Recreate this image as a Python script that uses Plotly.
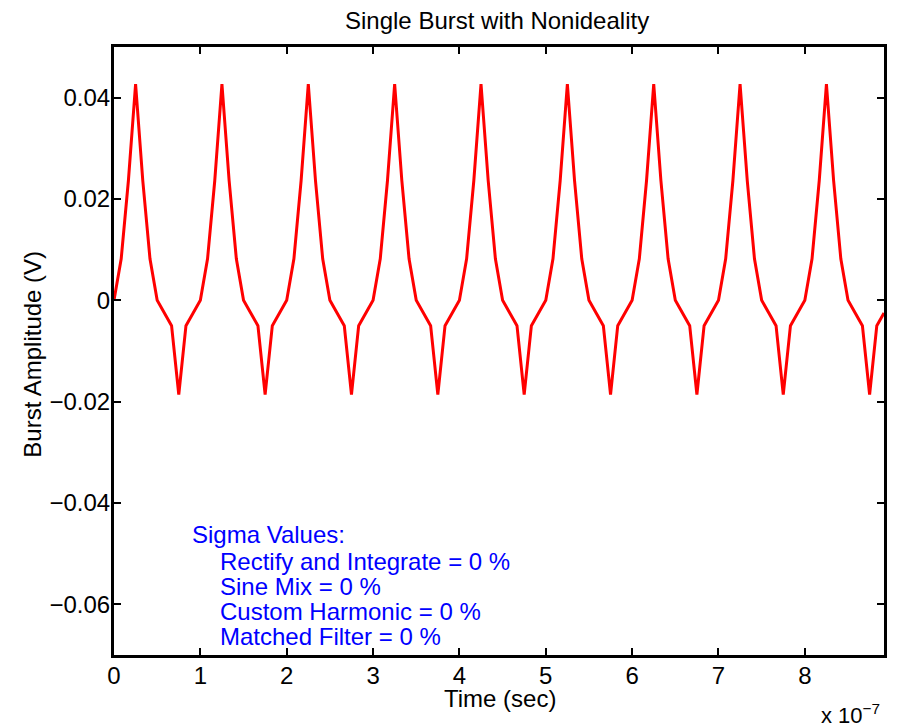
import plotly.graph_objects as go

# Sampling: 12 samples per 1e-7 s
dt = 1e-7 / 12

# Burst amplitude samples (V), 12 per period
burst = [
    0, 0.0082, 0.0236, 0.0427, 0.0236, 0.0082, 0, -0.0025, -0.005, -0.0186, -0.005, -0.0025,
    0, 0.0082, 0.0236, 0.0427, 0.0236, 0.0082, 0, -0.0025, -0.005, -0.0186, -0.005, -0.0025,
    0, 0.0082, 0.0236, 0.0427, 0.0236, 0.0082, 0, -0.0025, -0.005, -0.0186, -0.005, -0.0025,
    0, 0.0082, 0.0236, 0.0427, 0.0236, 0.0082, 0, -0.0025, -0.005, -0.0186, -0.005, -0.0025,
    0, 0.0082, 0.0236, 0.0427, 0.0236, 0.0082, 0, -0.0025, -0.005, -0.0186, -0.005, -0.0025,
    0, 0.0082, 0.0236, 0.0427, 0.0236, 0.0082, 0, -0.0025, -0.005, -0.0186, -0.005, -0.0025,
    0, 0.0082, 0.0236, 0.0427, 0.0236, 0.0082, 0, -0.0025, -0.005, -0.0186, -0.005, -0.0025,
    0, 0.0082, 0.0236, 0.0427, 0.0236, 0.0082, 0, -0.0025, -0.005, -0.0186, -0.005, -0.0025,
    0, 0.0082, 0.0236, 0.0427, 0.0236, 0.0082, 0, -0.0025, -0.005, -0.0186, -0.005, -0.0025,
]

x_tick_vals = [0, 1e-7, 2e-7, 3e-7, 4e-7, 5e-7, 6e-7, 7e-7, 8e-7]
x_tick_text = ["0", "1", "2", "3", "4", "5", "6", "7", "8"]
y_tick_vals = [0.04, 0.02, 0, -0.02, -0.04, -0.06]
y_tick_text = ["0.04", "0.02", "0", "\u22120.02", "\u22120.04", "\u22120.06"]

sigma_lines = [
    "Sigma Values:",
    "Rectify and Integrate = 0 %",
    "Sine Mix = 0 %",
    "Custom Harmonic = 0 %",
    "Matched Filter = 0 %",
]

FONT = "Liberation Sans, Arial, Helvetica, sans-serif"
FS = 24

fig = go.Figure()
fig.add_trace(go.Scatter(
    x0=0, dx=dt, y=burst, mode="lines",
    line=dict(color="#ff0000", width=3),
    showlegend=False, hoverinfo="skip",
))

x_max = (len(burst) - 1) * dt

axis_common = dict(
    showline=True, linecolor="black", linewidth=3, mirror="allticks",
    ticks="inside", ticklen=7, tickwidth=2, tickcolor="black",
    showgrid=False, zeroline=False,
    tickfont=dict(family=FONT, size=FS, color="black"),
)

fig.update_xaxes(range=[0, x_max], tickmode="array", tickvals=x_tick_vals,
                 ticktext=x_tick_text, ticklabelstandoff=-3, **axis_common)
fig.update_yaxes(range=[-0.07, 0.05], tickmode="array", tickvals=y_tick_vals,
                 ticktext=y_tick_text, ticklabelstandoff=-4, **axis_common)

annotations = [
    dict(text="Single Burst with Nonideality", x=0.497, y=1.044, xref="paper", yref="paper",
         xanchor="center", yanchor="middle", showarrow=False,
         font=dict(family=FONT, size=FS, color="black")),
    dict(text="Time (sec)", x=0.5016, y=-0.0712, xref="paper", yref="paper",
         xanchor="center", yanchor="middle", showarrow=False,
         font=dict(family=FONT, size=FS, color="black")),
    dict(text="Burst Amplitude (V)", x=-0.107, y=0.495, xref="paper", yref="paper",
         xanchor="center", yanchor="middle", showarrow=False, textangle=-90,
         font=dict(family=FONT, size=FS, color="black")),
    dict(text="x 10<sup>\u22127</sup>",
         x=0.9155, y=-0.0975, xref="paper", yref="paper",
         xanchor="left", yanchor="middle", showarrow=False,
         font=dict(family=FONT, size=22, color="black")),
]

sigma_x = [0.0983, 0.1351, 0.1351, 0.1351, 0.1351]
sigma_y = [0.1977, 0.1538, 0.1127, 0.0711, 0.0306]
for txt, sx, sy in zip(sigma_lines, sigma_x, sigma_y):
    annotations.append(dict(text=txt, x=sx, y=sy, xref="paper", yref="paper",
                            xanchor="left", yanchor="middle", showarrow=False,
                            font=dict(family=FONT, size=FS, color="#0000ff")))

# The page body adds an 8 px offset, so the figure is 8 px smaller and margins shifted
fig.update_layout(
    width=891, height=719,
    margin=dict(l=106, r=12, t=39, b=72),
    paper_bgcolor="white", plot_bgcolor="white",
    annotations=annotations,
)

fig.write_html("out.html")
